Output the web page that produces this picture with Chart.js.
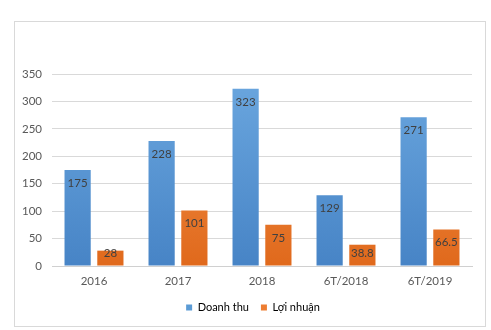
<!DOCTYPE html>
<html>
<head>
<meta charset="utf-8">
<script src="https://cdn.jsdelivr.net/npm/chart.js@4"></script>
<style>
    body { margin: 0; background: #fff; }
    .khung {
        position: absolute; left: 14px; top: 21px;
        width: 470px; height: 304px;
        border: 1px solid #d9d9d9;
    }
</style>
</head>
<body>
<div class="khung"><canvas id="bieuDo" width="470" height="304"></canvas></div>
<script>
// Dữ liệu biểu đồ
const nam = ['2016', '2017', '2018', '6T/2018', '6T/2019'];
const doanhThu = [175, 228, 323, 129, 271];
const loiNhuan = [28, 101, 75, 38.8, 66.5];
const nhanDoanhThu = ['175', '228', '323', '129', '271'];
const nhanLoiNhuan = ['28', '101', '75', '38.8', '66.5'];
const mocTruc = [0, 50, 100, 150, 200, 250, 300, 350];

const FONT = 'Lato, "Open Sans", sans-serif';

// Gradient kiểu Excel: sáng ở trên, đậm ở dưới
function taoGradient(ctx, tren, duoi) {
    const { chart } = ctx;
    const area = chart.chartArea;
    if (!area) return duoi;
    const g = chart.ctx.createLinearGradient(0, area.top, 0, area.bottom);
    g.addColorStop(0, tren);
    g.addColorStop(1, duoi);
    return g;
}

// Nhãn giá trị bên trong đầu cột
const nhanCot = {
    id: 'nhanCot',
    afterDatasetsDraw(chart) {
        const c = chart.ctx;
        const y0 = chart.scales.y.getPixelForValue(0);
        const nhan = [nhanDoanhThu, nhanLoiNhuan];
        c.save();
        c.font = '11.5px ' + FONT;
        c.fillStyle = '#404040';
        c.textAlign = 'center';
        c.textBaseline = 'middle';
        chart.data.datasets.forEach((ds, i) => {
            chart.getDatasetMeta(i).data.forEach((bar, j) => {
                const y = Math.min(bar.y + 13, y0 - 13);
                c.fillText(nhan[i][j], bar.x, y);
            });
        });
        c.restore();
    }
};

new Chart(document.getElementById('bieuDo'), {
    type: 'bar',
    data: {
        labels: nam,
        datasets: [
            {
                label: 'Doanh thu',
                data: doanhThu,
                backgroundColor: ctx => taoGradient(ctx, '#6ba7df', '#4784c6'),
                categoryPercentage: 0.78,
                barPercentage: 0.8
            },
            {
                label: 'Lợi nhuận',
                data: loiNhuan,
                backgroundColor: ctx => taoGradient(ctx, '#f5954e', '#e0691c'),
                categoryPercentage: 0.78,
                barPercentage: 0.8
            }
        ]
    },
    options: {
        responsive: false,
        animation: false,
        layout: { padding: { top: 52, right: 0, left: 6, bottom: 3 } },
        plugins: {
            tooltip: { enabled: false },
            legend: {
                position: 'bottom',
                labels: {
                    boxWidth: 6,
                    boxHeight: 6,
                    color: '#595959',
                    font: { family: FONT, size: 11 },
                    padding: 12,
                    generateLabels: chart => chart.data.datasets.map((ds, i) => ({
                        text: ds.label,
                        fillStyle: i === 0 ? '#5b9bd5' : '#ed7d31',
                        strokeStyle: 'rgba(0,0,0,0)',
                        lineWidth: 0,
                        datasetIndex: i
                    }))
                }
            }
        },
        scales: {
            y: {
                min: 0,
                max: 350,
                afterBuildTicks: s => { s.ticks = mocTruc.map(v => ({ value: v })); },
                afterFit: s => { s.width = 31; },
                border: { display: false },
                grid: { color: '#d9d9d9', drawTicks: false },
                ticks: { color: '#595959', padding: 10, font: { family: FONT, size: 11.5 } }
            },
            // trục phụ bên phải chỉ để chừa lề
            yPhai: {
                position: 'right',
                afterFit: s => { s.width = 13; },
                border: { display: false },
                grid: { display: false, drawTicks: false },
                ticks: { display: false }
            },
            x: {
                afterFit: s => { s.height = 24; },
                border: { display: true, color: '#d0d0d0' },
                grid: { display: false, drawTicks: false },
                ticks: { color: '#595959', padding: 8, font: { family: FONT, size: 11.5 } }
            }
        }
    },
    plugins: [nhanCot]
});
</script>
</body>
</html>
